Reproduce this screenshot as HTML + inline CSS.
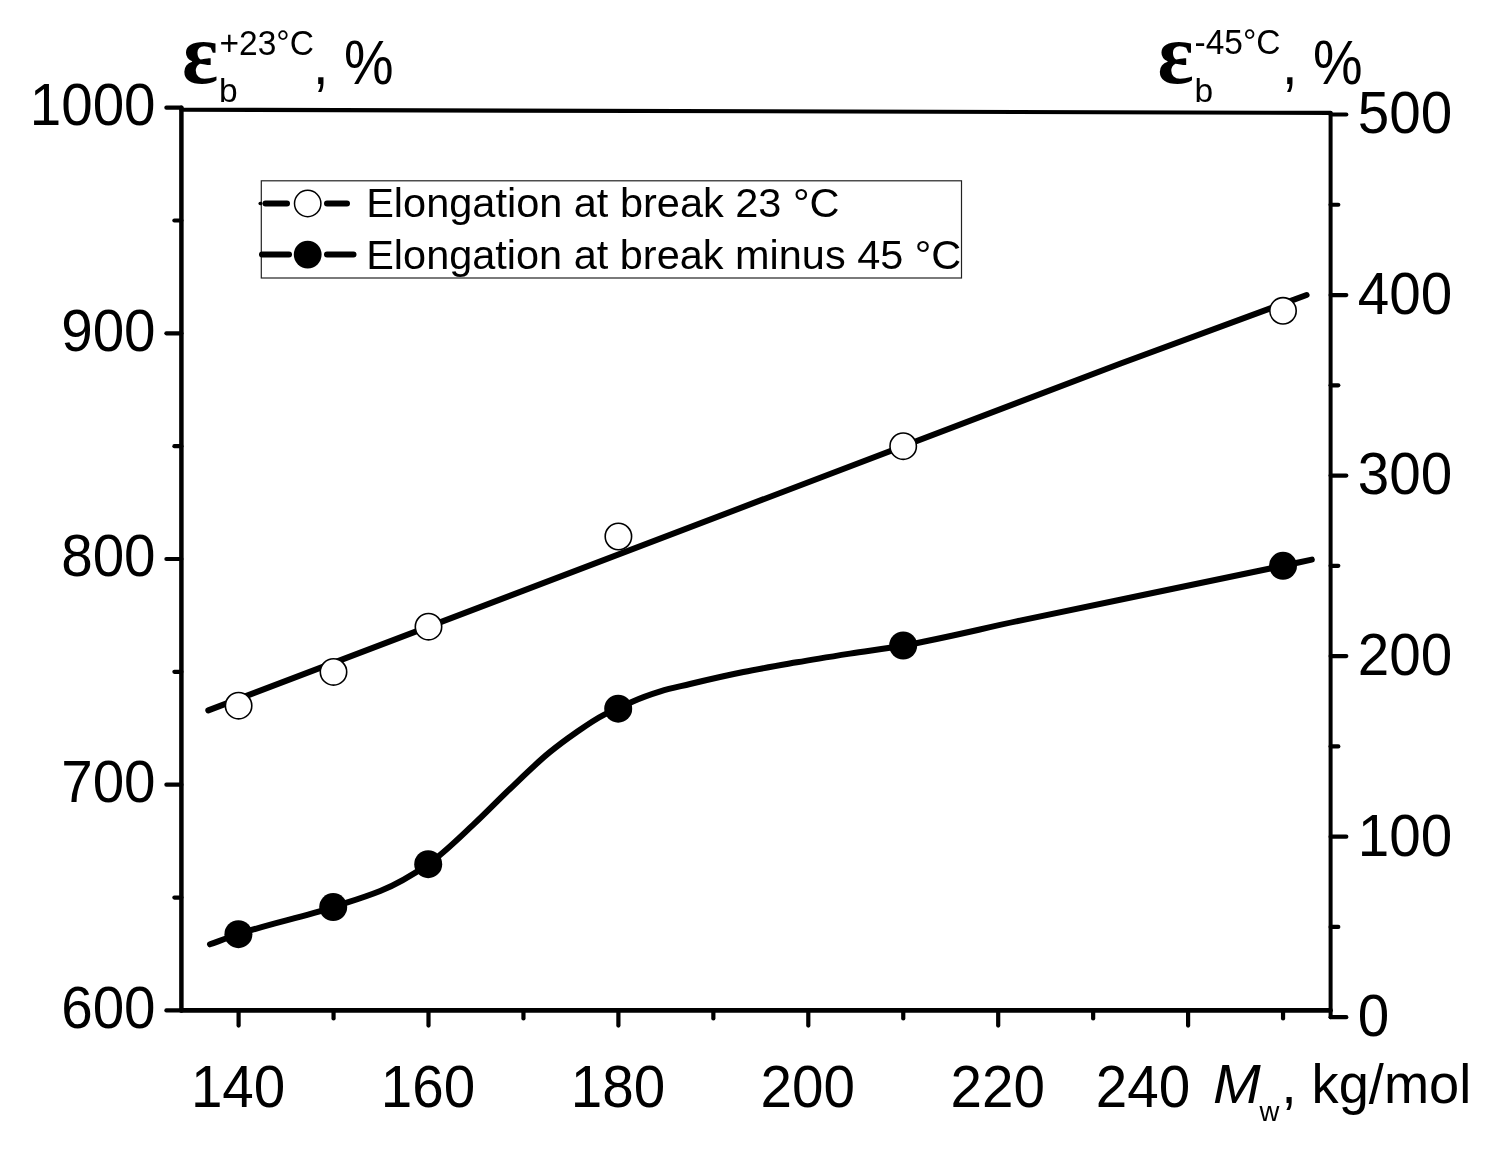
<!DOCTYPE html>
<html lang="en"><head><meta charset="utf-8"><title>Elongation at break vs Mw</title>
<style>
html,body{margin:0;padding:0;background:#fff;}
body{width:1497px;height:1155px;overflow:hidden;}
svg{display:block;will-change:transform;}
text{font-family:"Liberation Sans",sans-serif;fill:#000;}
.ser{font-family:"Liberation Serif","DejaVu Serif",serif;font-weight:bold;}
</style></head><body>
<svg width="1497" height="1155" viewBox="0 0 1497 1155">
<rect width="1497" height="1155" fill="#fff"/>

<g stroke="#000" stroke-linecap="round" fill="none">
<line x1="181.4" y1="107.65" x2="181.4" y2="1010.4" stroke-width="4.5"/>
<line x1="181.4" y1="1010.4" x2="1330.6" y2="1010.4" stroke-width="4.6"/>
<line x1="1330.6" y1="112.9" x2="1330.6" y2="1017.2" stroke-width="4.0"/>
<line x1="181.4" y1="109.7" x2="1330.6" y2="112.9" stroke-width="4.1"/>
</g>
<g stroke="#000" stroke-width="4.2" stroke-linecap="round" fill="none">
<line x1="166.4" y1="1010.40" x2="181.4" y2="1010.40"/>
<line x1="166.4" y1="784.71" x2="181.4" y2="784.71"/>
<line x1="166.4" y1="559.02" x2="181.4" y2="559.02"/>
<line x1="166.4" y1="333.34" x2="181.4" y2="333.34"/>
<line x1="166.4" y1="107.65" x2="181.4" y2="107.65"/>
<line x1="174.4" y1="897.56" x2="181.4" y2="897.56"/>
<line x1="174.4" y1="671.87" x2="181.4" y2="671.87"/>
<line x1="174.4" y1="446.18" x2="181.4" y2="446.18"/>
<line x1="174.4" y1="220.49" x2="181.4" y2="220.49"/>
<line x1="1330.6" y1="1017.20" x2="1346.3" y2="1017.20"/>
<line x1="1330.6" y1="836.66" x2="1346.3" y2="836.66"/>
<line x1="1330.6" y1="656.12" x2="1346.3" y2="656.12"/>
<line x1="1330.6" y1="475.58" x2="1346.3" y2="475.58"/>
<line x1="1330.6" y1="295.04" x2="1346.3" y2="295.04"/>
<line x1="1330.6" y1="114.50" x2="1346.3" y2="114.50"/>
<line x1="1330.6" y1="926.93" x2="1338.3" y2="926.93"/>
<line x1="1330.6" y1="746.39" x2="1338.3" y2="746.39"/>
<line x1="1330.6" y1="565.85" x2="1338.3" y2="565.85"/>
<line x1="1330.6" y1="385.31" x2="1338.3" y2="385.31"/>
<line x1="1330.6" y1="204.77" x2="1338.3" y2="204.77"/>
<line x1="238.60" y1="1010.4" x2="238.60" y2="1025.6"/>
<line x1="428.50" y1="1010.4" x2="428.50" y2="1025.6"/>
<line x1="618.40" y1="1010.4" x2="618.40" y2="1025.6"/>
<line x1="808.30" y1="1010.4" x2="808.30" y2="1025.6"/>
<line x1="998.20" y1="1010.4" x2="998.20" y2="1025.6"/>
<line x1="1188.10" y1="1010.4" x2="1188.10" y2="1025.6"/>
<line x1="333.55" y1="1010.4" x2="333.55" y2="1018.4"/>
<line x1="523.45" y1="1010.4" x2="523.45" y2="1018.4"/>
<line x1="713.35" y1="1010.4" x2="713.35" y2="1018.4"/>
<line x1="903.25" y1="1010.4" x2="903.25" y2="1018.4"/>
<line x1="1093.15" y1="1010.4" x2="1093.15" y2="1018.4"/>
<line x1="1283.05" y1="1010.4" x2="1283.05" y2="1018.4"/>
</g>
<text transform="translate(155.60,1027.80) scale(1,1.043)" font-size="56.6" text-anchor="end" >600</text>
<text transform="translate(155.60,802.11) scale(1,1.043)" font-size="56.6" text-anchor="end" >700</text>
<text transform="translate(155.60,576.42) scale(1,1.043)" font-size="56.6" text-anchor="end" >800</text>
<text transform="translate(155.60,350.74) scale(1,1.043)" font-size="56.6" text-anchor="end" >900</text>
<text transform="translate(155.60,125.05) scale(1,1.043)" font-size="56.6" text-anchor="end" >1000</text>
<text transform="translate(1357.80,1036.10) scale(1,1.043)" font-size="56.6" text-anchor="start" >0</text>
<text transform="translate(1357.80,855.56) scale(1,1.043)" font-size="56.6" text-anchor="start" >100</text>
<text transform="translate(1357.80,675.02) scale(1,1.043)" font-size="56.6" text-anchor="start" >200</text>
<text transform="translate(1357.80,494.48) scale(1,1.043)" font-size="56.6" text-anchor="start" >300</text>
<text transform="translate(1357.80,313.94) scale(1,1.043)" font-size="56.6" text-anchor="start" >400</text>
<text transform="translate(1357.80,133.40) scale(1,1.043)" font-size="56.6" text-anchor="start" >500</text>
<text transform="translate(238.10,1106.60) scale(1,1.043)" font-size="56.6" text-anchor="middle" >140</text>
<text transform="translate(428.00,1106.60) scale(1,1.043)" font-size="56.6" text-anchor="middle" >160</text>
<text transform="translate(617.90,1106.60) scale(1,1.043)" font-size="56.6" text-anchor="middle" >180</text>
<text transform="translate(807.80,1106.60) scale(1,1.043)" font-size="56.6" text-anchor="middle" >200</text>
<text transform="translate(997.70,1106.60) scale(1,1.043)" font-size="56.6" text-anchor="middle" >220</text>
<text transform="translate(1143.00,1106.60) scale(1,1.043)" font-size="56.6" text-anchor="middle" >240</text>
<g stroke="#000" stroke-width="6" stroke-linecap="round" fill="none">
<polyline points="208.3,710.4 1120,363.7 1306.6,295.0" stroke-linejoin="round"/>
<path d="M210.0,944.3 C219.5,940.9 228.9,937.4 238.4,934.2 C270.0,923.5 301.6,917.5 333.2,907.1 C348.9,901.9 364.5,897.3 380.2,891.0 C396.2,884.6 412.2,875.2 428.2,864.2 C443.3,853.8 458.5,838.5 473.6,824.4 C485.1,813.7 496.6,801.7 508.1,790.7 C522.0,777.5 535.9,763.5 549.8,752.2 C558.3,745.2 566.9,738.9 575.4,733.0 C585.0,726.3 594.7,719.4 604.3,714.6 C608.9,712.3 613.6,710.8 618.2,708.7 C622.9,706.5 627.6,703.8 632.3,701.7 C641.7,697.4 651.0,694.2 660.4,691.3 C670.3,688.2 680.1,686.4 690.0,684.0 C707.8,679.7 725.6,675.6 743.4,672.0 C761.2,668.4 779.1,665.4 796.9,662.3 C814.6,659.2 832.3,656.4 850.0,653.6 C867.7,650.8 885.5,648.6 903.2,645.5 C942.1,638.7 981.1,628.8 1020.0,620.6 C1107.7,602.0 1195.3,584.6 1283.0,565.8 C1292.6,563.7 1302.2,561.7 1311.8,559.6"/>
</g>
<g stroke="#000" stroke-width="1.6">
<circle cx="238.6" cy="705.7" r="13.2" fill="#fff"/>
<circle cx="333.5" cy="671.9" r="13.2" fill="#fff"/>
<circle cx="428.5" cy="626.7" r="13.2" fill="#fff"/>
<circle cx="618.4" cy="536.5" r="13.2" fill="#fff"/>
<circle cx="903.2" cy="446.2" r="13.2" fill="#fff"/>
<circle cx="1283.0" cy="310.8" r="13.2" fill="#fff"/>
</g>
<circle cx="238.4" cy="934.2" r="14" fill="#000"/>
<circle cx="333.2" cy="907.1" r="14" fill="#000"/>
<circle cx="428.2" cy="864.2" r="14" fill="#000"/>
<circle cx="618.2" cy="708.7" r="14" fill="#000"/>
<circle cx="903.2" cy="645.5" r="14" fill="#000"/>
<circle cx="1283.0" cy="565.8" r="14" fill="#000"/>
<rect x="261.3" y="180.8" width="700.2" height="97.2" fill="#fff" stroke="#222" stroke-width="1.2"/>
<g stroke="#000" stroke-width="6" stroke-linecap="round">
<line x1="265.5" y1="203.5" x2="287" y2="203.5"/><line x1="327" y1="203.5" x2="347" y2="203.5"/>
<line x1="262" y1="254.6" x2="289" y2="254.6"/><line x1="327" y1="254.6" x2="353.5" y2="254.6"/>
</g>
<line x1="260.2" y1="203.5" x2="260.7" y2="203.5" stroke="#000" stroke-width="3.5" stroke-linecap="round"/>
<circle cx="307.7" cy="203.5" r="13.2" fill="#fff" stroke="#000" stroke-width="1.5"/>
<circle cx="307.7" cy="254.6" r="13.9" fill="#000"/>
<text transform="translate(366.20,217.20) scale(1.0372,1.0)" font-size="40" text-anchor="start" >Elongation at break 23 °C</text>
<text transform="translate(366.20,269.00) scale(1.0368,1.0)" font-size="40" text-anchor="start" >Elongation at break minus 45 °C</text>
<text class="ser" transform="translate(182,82.5) scale(0.98,1)" font-size="86.5">ε</text>
<text transform="translate(219.50,54.70) scale(1.0,1.05)" font-size="33.5" text-anchor="start" >+23°C</text>
<text transform="translate(219.00,101.50) scale(1.0,1.0)" font-size="33.5" text-anchor="start" >b</text>
<text transform="translate(313.00,83.50) scale(0.97,1.08)" font-size="57.5" text-anchor="start" >, %</text>
<text class="ser" transform="translate(1157.5,82.5) scale(0.98,1)" font-size="86.5">ε</text>
<text transform="translate(1194.50,53.70) scale(1.0,1.05)" font-size="33.5" text-anchor="start" >-45°C</text>
<text transform="translate(1194.50,101.50) scale(1.0,1.0)" font-size="33.5" text-anchor="start" >b</text>
<text transform="translate(1282.00,83.50) scale(0.97,1.08)" font-size="57.5" text-anchor="start" >, %</text>
<text transform="translate(1213.00,1103.00) scale(1.02,1.0)" font-size="56.2" text-anchor="start" font-style="italic">M</text>
<text transform="translate(1259.50,1121.00) scale(1.0,1.0)" font-size="27.5" text-anchor="start" >w</text>
<text transform="translate(1281.50,1103.00) scale(1.0,1.01)" font-size="54.2" text-anchor="start" >, kg/mol</text>
</svg></body></html>
